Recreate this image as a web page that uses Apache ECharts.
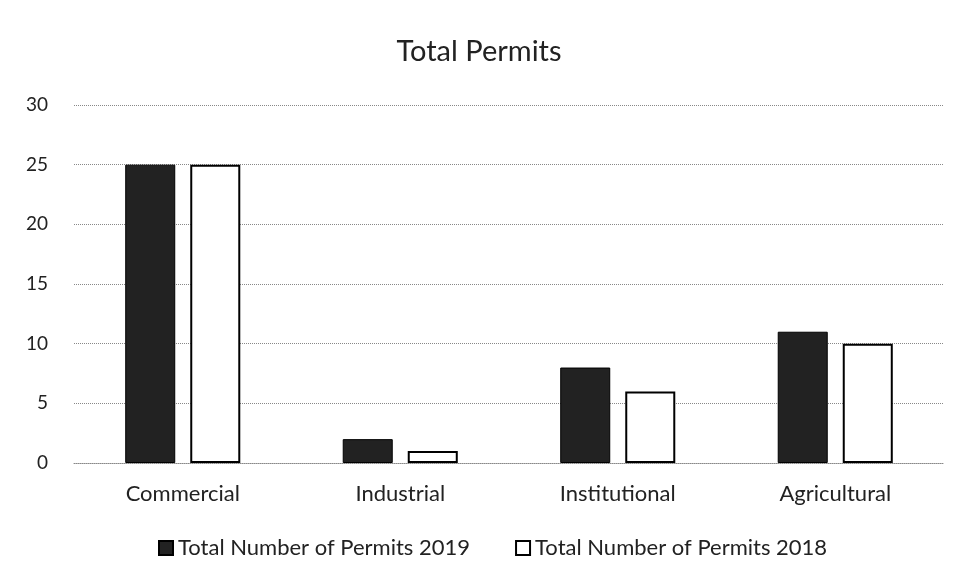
<!DOCTYPE html>
<html>
<head>
<meta charset="utf-8">
<script src="https://cdn.jsdelivr.net/npm/echarts@6/dist/echarts.min.js"></script>
<style>
  html, body { margin: 0; padding: 0; background: #fff; }
  #chart { width: 958px; height: 584px; }
</style>
</head>
<body>
<div id="chart"></div>
<script>
  const categories = ['Commercial', 'Industrial', 'Institutional', 'Agricultural']
  const permits2019 = [25, 2, 8, 11]
  const permits2018 = [25, 1, 6, 10]
  const yTicks = { min: 0, max: 30, interval: 5 }

  const chart = echarts.init(document.getElementById('chart'))
  const font = 'Lato, "Open Sans", sans-serif'

  const option = {
    backgroundColor: '#fff',
    textStyle: { fontFamily: font },
    title: {
      text: 'Total Permits',
      left: 'center',
      top: 32,
      textStyle: { fontFamily: font, fontSize: 29, fontWeight: 'normal', color: '#222' }
    },
    legend: {
      bottom: 20,
      left: 153,
      itemGap: 45,
      itemWidth: 14,
      itemHeight: 14,
      icon: 'rect',
      textStyle: { fontFamily: font, fontSize: 22, color: '#222' },
      data: ['Total Number of Permits 2019', 'Total Number of Permits 2018']
    },
    grid: {
      left: 74,
      right: 14,
      top: 105,
      bottom: 121
    },
    xAxis: {
      type: 'category',
      data: categories,
      axisTick: { show: false },
      axisLine: { lineStyle: { color: '#888', type: 'dotted' } },
      axisLabel: { fontFamily: font, fontSize: 22, color: '#222', margin: 20 }
    },
    yAxis: {
      type: 'value',
      min: yTicks.min,
      max: yTicks.max,
      interval: yTicks.interval,
      axisLine: { show: false },
      axisTick: { show: false },
      axisLabel: { fontFamily: font, fontSize: 19, color: '#222', margin: 26 },
      splitLine: { lineStyle: { color: '#888', type: 'dotted', width: 1 } }
    },
    series: [
      {
        name: 'Total Number of Permits 2019',
        type: 'bar',
        barWidth: '23%',
        barGap: '30%',
        itemStyle: { color: '#222', borderColor: '#000', borderWidth: 1 },
        data: permits2019
      },
      {
        name: 'Total Number of Permits 2018',
        type: 'bar',
        barWidth: '23%',
        itemStyle: { color: '#fff', borderColor: '#000', borderWidth: 2 },
        data: permits2018
      }
    ]
  }

  chart.setOption(option)
</script>
</body>
</html>
